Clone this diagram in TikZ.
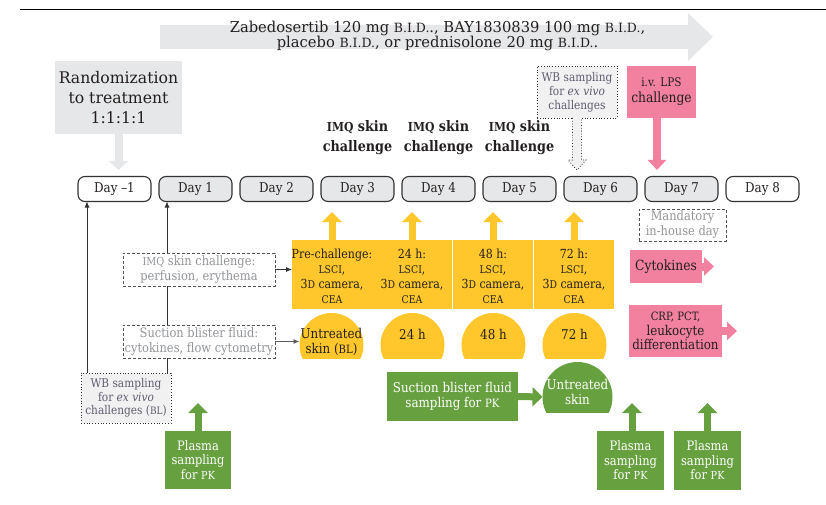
\documentclass[tikz,border=0pt]{standalone}
\usepackage{fontspec}
\setmainfont{DejaVu Serif}[FakeStretch=0.88]
\newfontfamily\widefont{DejaVu Serif}[FakeStretch=0.98]
\usetikzlibrary{arrows.meta,calc}
\definecolor{dgrey}{HTML}{E6E7E8}
\definecolor{wbfill}{HTML}{F1F1F2}
\definecolor{yel}{HTML}{FFC72C}
\definecolor{grn}{HTML}{67A03F}
\definecolor{pnk}{HTML}{F2809F}
\definecolor{txtgrey}{HTML}{939598}
\definecolor{wbtxt}{HTML}{605C6E}
\definecolor{lc}{HTML}{333333}
\definecolor{tc}{HTML}{231F20}
\newcommand\smc[1]{\scalebox{0.85}{#1}}
\newcommand\fsz[2]{\fontsize{#1}{#2}\selectfont}
\begin{document}
\begin{tikzpicture}[x=1pt,y=-1pt,
  every node/.style={inner sep=0pt, outer sep=0pt},
  daybox/.style={draw=lc, line width=1.1pt, rounded corners=7pt, minimum width=73pt, minimum height=25pt, font=\fsz{13.5}{15}, text=tc},
  gday/.style={daybox, fill=dgrey},
  wday/.style={daybox, fill=white},
  imqlab/.style={font=\bfseries\fsz{14.5}{20}, align=center, text=tc},
  ybox/.style={fill=yel, minimum width=80pt, minimum height=69pt},
  ytext/.style={align=center, font=\fsz{12.5}{15}, text=tc},
  ydome/.style={circle, fill=yel, minimum size=64pt},
  dashbox/.style={draw=lc!85, dash pattern=on 3pt off 2pt, line width=0.9pt, minimum width=152pt, minimum height=33pt, align=center, font=\fsz{13}{15}, text=txtgrey, fill=white},
  wbbox/.style={draw=lc, dotted, line width=0.8pt, fill=wbfill, align=center, text=wbtxt, font=\fsz{12}{14}},
  gbox/.style={fill=grn, text=white, align=center},
  pbox/.style={fill=pnk, text=tc, align=center},
  thinarr/.style={draw=lc, line width=0.9pt, -{Latex[length=6pt,width=5pt]}},
  yarr/.style={draw=yel, line width=7pt, -{Triangle[length=10pt,width=19pt]}},
  garr/.style={draw=grn, line width=7pt, -{Triangle[length=10pt,width=19pt]}},
  parr/.style={draw=pnk, line width=8pt, -{Triangle[length=10pt,width=18pt]}},
  rarr/.style={draw=dgrey, line width=8pt, -{Triangle[length=9pt,width=19pt]}}
]
\useasboundingbox (0,0) rectangle (826,505);
% top rule
\draw[line width=1.8pt, black] (20,9.5) -- (826,9.5);
% big treatment arrow
\fill[dgrey] (160,25) -- (688,25) -- (688,13) -- (713,37) -- (688,61) -- (688,49) -- (160,49) -- cycle;
\node[font=\widefont\fsz{15}{15.5}, text=tc, align=center] (drug) at (437.5,36)
  {Zabedosertib 120 mg \smc{B.I.D.}., BAY1830839 100 mg \smc{B.I.D.},\\placebo \smc{B.I.D.}, or prednisolone 20 mg \smc{B.I.D.}.};
% randomization
\node[fill=dgrey, minimum width=127pt, minimum height=73pt, align=center, font=\widefont\fsz{16}{20}, text=tc] (rand) at (118.5,97.5) {Randomization\\to treatment\\1:1:1:1};
% days
\node[wday] (dm1) at (114.5,189) {Day --1};
\node[gday] (d1) at (195.5,189) {Day 1};
\node[gday] (d2) at (276.5,189) {Day 2};
\node[gday] (d3) at (357.5,189) {Day 3};
\node[gday] (d4) at (438.5,189) {Day 4};
\node[gday] (d5) at (519.5,189) {Day 5};
\node[gday] (d6) at (600.5,189) {Day 6};
\node[gday] (d7) at (681.5,189) {Day 7};
\node[wday] (d8) at (762.5,189) {Day 8};
\draw[rarr] (rand.south) -- ++(0,36);
% IMQ labels
\node[imqlab] (imq3) at (357.5,138) {\smc{IMQ} skin\\challenge};
\node[imqlab] (imq4) at (438.5,138) {\smc{IMQ} skin\\challenge};
\node[imqlab] (imq5) at (519.5,138) {\smc{IMQ} skin\\challenge};
% WB top
\node[wbbox, minimum width=80pt, minimum height=52pt] (wbt) at (577,92) {WB sampling\\for \textit{ex vivo}\\challenges};
\draw[draw=lc, dotted, line width=0.8pt, fill=wbfill] ([xshift=-4.5pt]wbt.south) -- ++(0,42) -- ++(-4.5,0) -- ++(9,10) -- ++(9,-10) -- ++(-4.5,0) -- ++(0,-42);
% LPS
\node[pbox, minimum width=69pt, minimum height=52pt, font=\fsz{14}{16}] (lps) at (661.5,92) {\smc{i.v. LPS}\\challenge};
\draw[parr] ([xshift=-4.5pt]lps.south) -- ++(0,52);
% mandatory
\node[dashbox, minimum width=87pt, minimum height=32pt] (mand) at (682.5,225) {Mandatory\\in-house day};
% yellow boxes
\node[ybox] (y1) at (332,274.5) {};
\node[ybox] (y2) at (412,274.5) {};
\node[ybox] (y3) at (493,274.5) {};
\node[ybox] (y4) at (574,274.5) {};
\node[ytext] (t1) at (332,276) {Pre-challenge:\\\smc{LSCI},\\3\smc{D} camera,\\\smc{CEA}};
\node[ytext] (t2) at (412,276) {24 h:\\\smc{LSCI},\\3\smc{D} camera,\\\smc{CEA}};
\node[ytext] (t3) at (493,276) {48 h:\\\smc{LSCI},\\3\smc{D} camera,\\\smc{CEA}};
\node[ytext] (t4) at (574,276) {72 h:\\\smc{LSCI},\\3\smc{D} camera,\\\smc{CEA}};
\draw[yarr] (y1.north) -- ++(0,-28);
\draw[yarr] (y2.north) -- ++(0,-28);
\draw[yarr] (y3.north) -- ++(0,-28);
\draw[yarr] (y4.north) -- ++(0,-28);
% yellow domes
\begin{scope}
\clip (280,300) rectangle (620,358);
\node[ydome] (m1) at (331.5,345) {};
\node[ydome] (m2) at (412.5,345) {};
\node[ydome] (m3) at (493.5,345) {};
\node[ydome] (m4) at (574.5,345) {};
\end{scope}
\node[ytext, font=\fsz{13.5}{15}] (mt1) at (331.5,341.5) {Untreated\\skin (\smc{BL})};
\node[ytext, font=\fsz{13.5}{15}] (mt2) at (412.5,334) {24 h};
\node[ytext, font=\fsz{13.5}{15}] (mt3) at (493.5,334) {48 h};
\node[ytext, font=\fsz{13.5}{15}] (mt4) at (574.5,334) {72 h};
% dashed boxes left
\node[dashbox] (imqb) at (199,269.5) {\smc{IMQ} skin challenge:\\perfusion, erythema};
\node[dashbox] (sbf) at (199,341.5) {Suction blister fluid:\\cytokines, flow cytometry};
\draw[thinarr] (imqb.east) -- (imqb.east -| y1.west);
\draw[thinarr, draw=lc!80] (sbf.east) -- (sbf.east -| m1.west);
% WB BL
\node[wbbox, minimum width=90pt, minimum height=50pt, font=\fsz{12}{13.5}] (wbbl) at (126,398) {WB sampling\\for \textit{ex vivo}\\challenges (\smc{BL})};
\coordinate (l0) at (87,0);
\coordinate (l1) at (167,0);
\draw[thinarr] (wbbl.north -| l0) -- (dm1.south -| l0);
\draw[draw=lc, line width=0.9pt] (wbbl.north -| l1) -- (sbf.south -| l1);
\draw[draw=lc, line width=0.9pt] (sbf.north -| l1) -- (imqb.south -| l1);
\draw[thinarr] (imqb.north -| l1) -- (d1.south -| l1);
% green suction
\node[gbox, minimum width=131pt, minimum height=49pt, font=\fsz{13.5}{15}] (gs) at (452.5,396.5) {Suction blister fluid\\sampling for \smc{PK}};
\begin{scope}
\clip (530,350) rectangle (620,412);
\node[circle, fill=grn, minimum size=70pt] (gd) at (577.5,397) {};
\end{scope}
\node[font=\fsz{13.5}{15}, text=white, align=center] (gdt) at (577.5,391.5) {Untreated\\skin};
\draw[garr] (gs.east) -- (gd.west);
% plasma
\node[gbox, minimum width=66pt, minimum height=58pt, font=\fsz{13}{14.5}] (p1) at (198,460) {Plasma\\sampling\\for \smc{PK}};
\node[gbox, minimum width=67pt, minimum height=59pt, font=\fsz{13}{14.5}] (p2) at (630.5,460.5) {Plasma\\sampling\\for \smc{PK}};
\node[gbox, minimum width=67pt, minimum height=59pt, font=\fsz{13}{14.5}] (p3) at (707.5,460.5) {Plasma\\sampling\\for \smc{PK}};
\draw[garr] (p1.north) -- ++(0,-28);
\draw[garr] ([xshift=1.5pt]p2.north) -- ++(0,-28);
\draw[garr] (p3.north) -- ++(0,-28);
% pink right boxes
\node[pbox, minimum width=72pt, minimum height=33pt, font=\fsz{14}{16}] (cyt) at (666,266.5) {Cytokines};
\draw[parr] (cyt.east) -- ++(12,0);
\node[pbox, minimum width=93pt, minimum height=52pt, font=\fsz{13.5}{14.5}] (crp) at (675.5,331) {\smc{CRP, PCT,}\\leukocyte\\differentiation};
\draw[parr] (crp.east) -- ++(15,0);
\end{tikzpicture}
\end{document}
